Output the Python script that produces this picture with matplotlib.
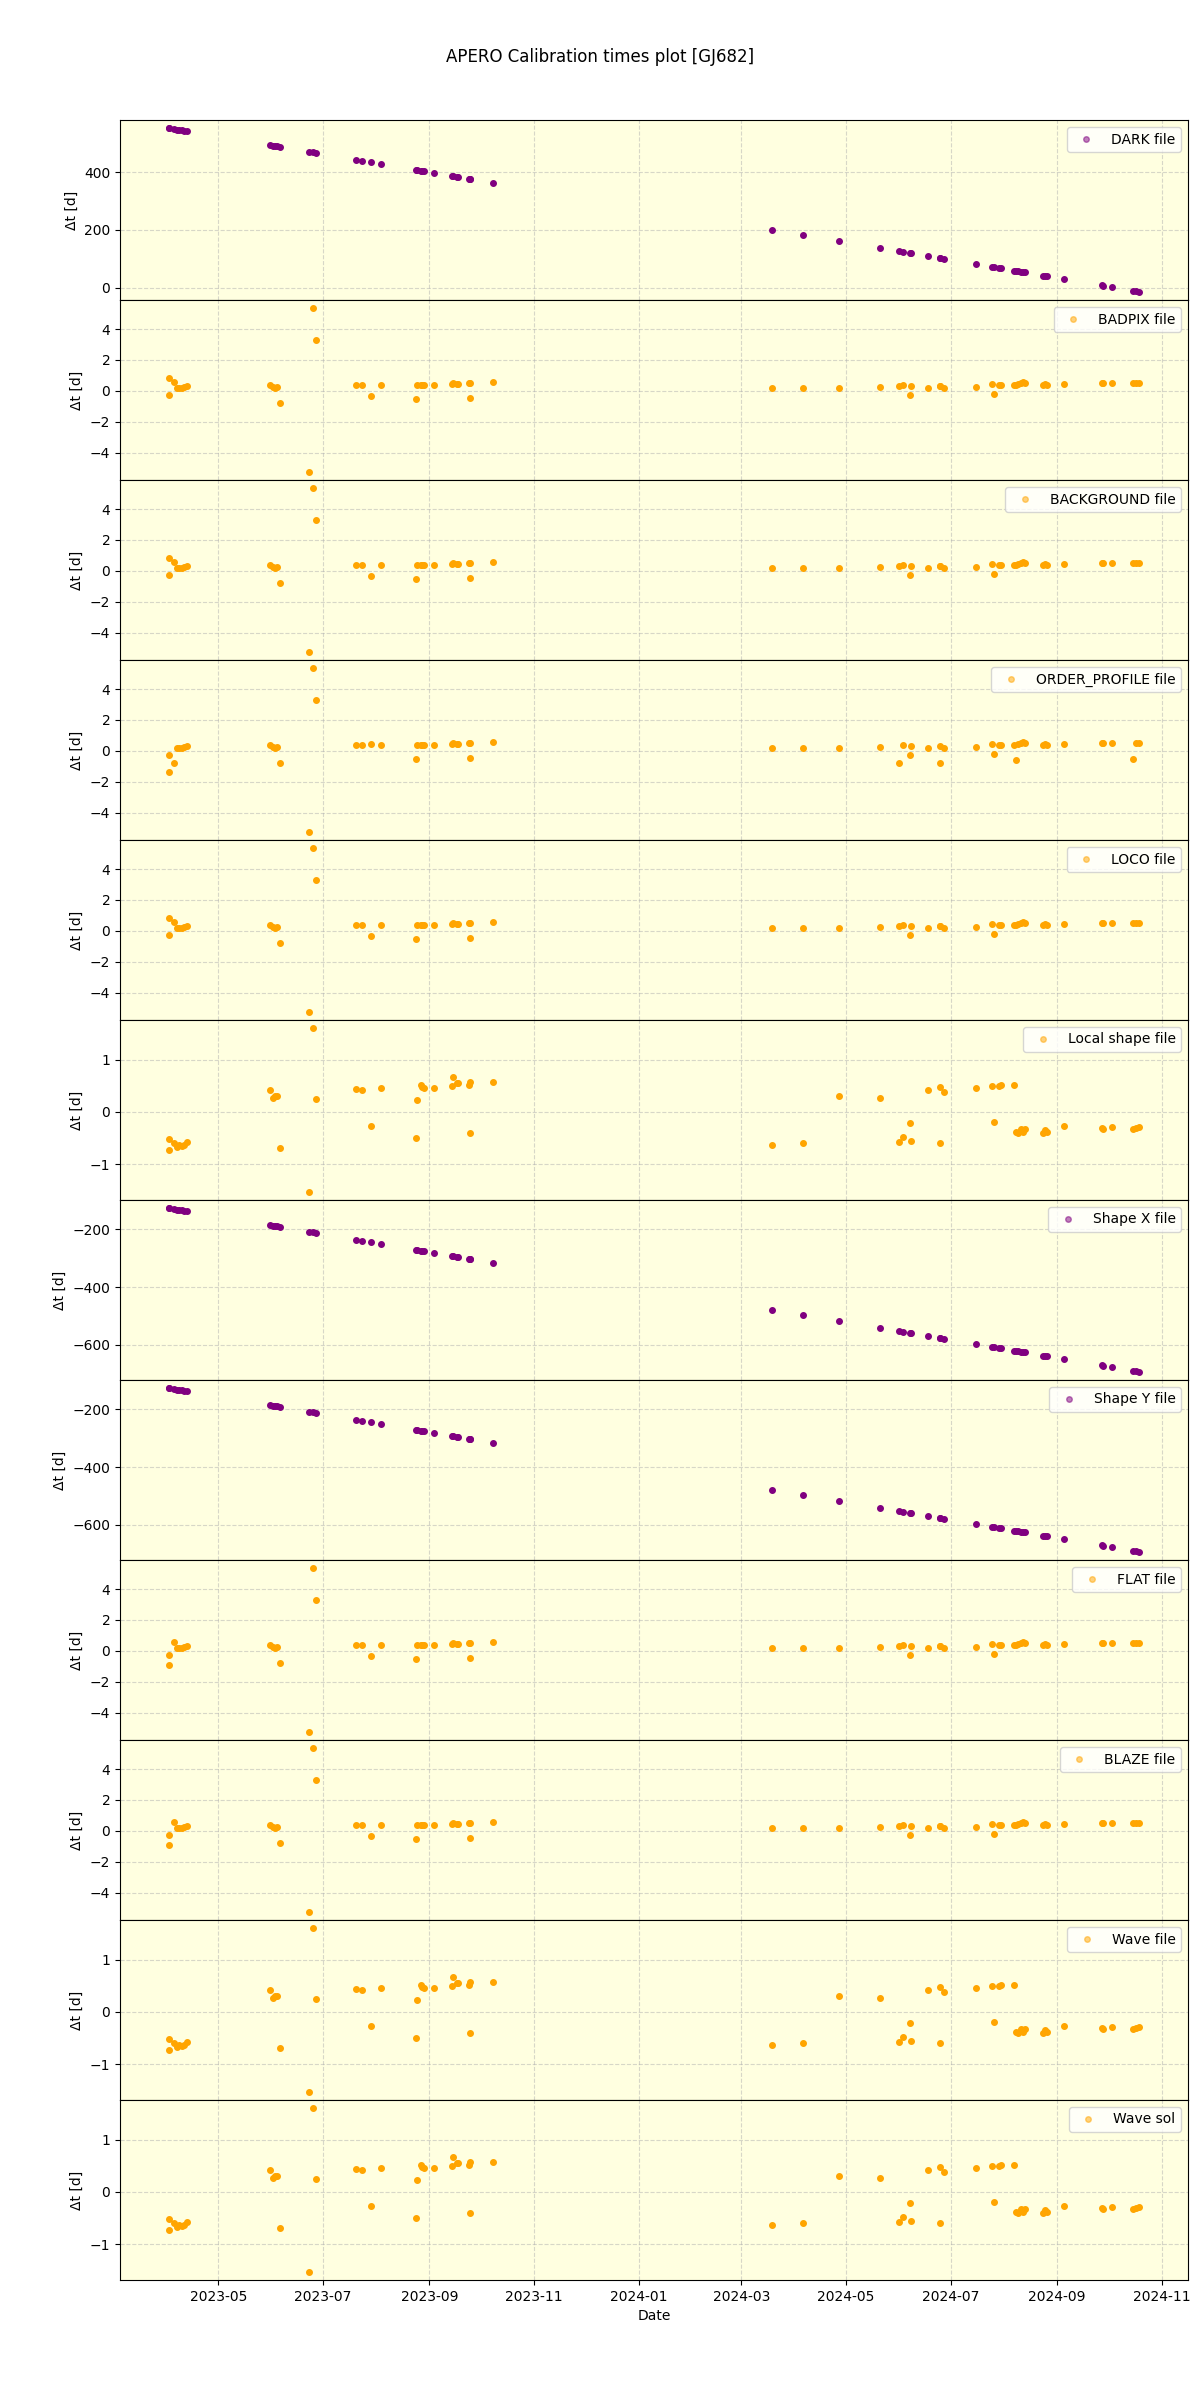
import numpy as np
import pandas as pd
import matplotlib
matplotlib.use('Agg')
import matplotlib.pyplot as plt

# observation dates (one entry per plotted point)
obs_dates = ['2023-04-02', '2023-04-02', '2023-04-05', '2023-04-07', '2023-04-08', '2023-04-10', '2023-04-11', '2023-04-13',
             '2023-05-31', '2023-06-02', '2023-06-03', '2023-06-04', '2023-06-06', '2023-06-23', '2023-06-25', '2023-06-27',
             '2023-07-20', '2023-07-24', '2023-07-29', '2023-08-04',
             '2023-08-24', '2023-08-25', '2023-08-27', '2023-08-28', '2023-08-29', '2023-09-04',
             '2023-09-14', '2023-09-15', '2023-09-17', '2023-09-18', '2023-09-24', '2023-09-25', '2023-09-25', '2023-10-08',
             '2024-03-19', '2024-04-06', '2024-04-27', '2024-05-21',
             '2024-06-01', '2024-06-03', '2024-06-07', '2024-06-08', '2024-06-18', '2024-06-25', '2024-06-25', '2024-06-27',
             '2024-07-16', '2024-07-25', '2024-07-26', '2024-07-29', '2024-07-30',
             '2024-08-07', '2024-08-08', '2024-08-09', '2024-08-11', '2024-08-12', '2024-08-13',
             '2024-08-24', '2024-08-25', '2024-08-26', '2024-09-05',
             '2024-09-27', '2024-09-28', '2024-10-03', '2024-10-15', '2024-10-17', '2024-10-19']

# delta t [days] for each calibration
dark_dt = [552, 552, 549, 547, 546, 544, 543, 541,
           493, 491, 490, 489, 487, 470, 468, 466,
           443, 439, 434, 428,
           408, 407, 405, 404, 403, 397,
           387, 386, 384, 383, 377, 376, 376, 363,
           200, 182, 161, 137,
           126, 124, 120, 119, 109, 102, 102, 100,
           81, 72, 71, 68, 67,
           59, 58, 57, 55, 54, 53,
           42, 41, 40, 30,
           8, 7, 2, -10, -12, -14]

badpix_dt = [0.8, -0.25, 0.55, 0.15, 0.2, 0.2, 0.25, 0.3,
             0.35, 0.25, 0.2, 0.25, -0.8, -5.25, 5.35, 3.3,
             0.4, 0.35, -0.35, 0.4,
             -0.55, 0.35, 0.4, 0.4, 0.4, 0.4,
             0.45, 0.5, 0.45, 0.45, 0.5, -0.5, 0.5, 0.55,
             0.15, 0.2, 0.2, 0.25,
             0.3, 0.35, -0.25, 0.3, 0.2, 0.3, 0.3, 0.2,
             0.25, 0.45, -0.2, 0.4, 0.4,
             0.4, 0.4, 0.45, 0.5, 0.55, 0.5,
             0.4, 0.45, 0.4, 0.45,
             0.5, 0.5, 0.5, 0.5, 0.5, 0.5]

background_dt = list(badpix_dt)
loco_dt = list(badpix_dt)

orderp_dt = [-1.4, -0.25, -0.78, 0.15, 0.2, 0.2, 0.25, 0.3,
             0.35, 0.25, 0.2, 0.25, -0.8, -5.25, 5.35, 3.3,
             0.4, 0.35, 0.45, 0.4,
             -0.55, 0.35, 0.4, 0.4, 0.4, 0.4,
             0.45, 0.5, 0.45, 0.45, 0.5, -0.5, 0.5, 0.55,
             0.15, 0.2, 0.2, 0.25,
             -0.78, 0.35, -0.25, 0.3, 0.2, 0.3, -0.78, 0.2,
             0.25, 0.45, -0.2, 0.4, 0.4,
             0.4, -0.58, 0.45, 0.5, 0.55, 0.5,
             0.4, 0.45, 0.4, 0.45,
             0.5, 0.5, 0.5, -0.52, 0.5, 0.5]

flat_dt = [-0.9] + badpix_dt[1:]
blaze_dt = list(flat_dt)

shape_local_dt = [-0.73, -0.52, -0.6, -0.67, -0.63, -0.65, -0.64, -0.58,
                  0.42, 0.27, 0.3, 0.31, -0.69, -1.53, 1.6, 0.24,
                  0.44, 0.42, -0.27, 0.46,
                  -0.5, 0.23, 0.52, 0.47, 0.46, 0.46,
                  0.5, 0.66, 0.55, 0.55, 0.52, -0.41, 0.58, 0.58,
                  -0.63, -0.59, 0.3, 0.26,
                  -0.58, -0.49, -0.21, -0.55, 0.42, 0.47, -0.6, 0.38,
                  0.46, 0.5, -0.2, 0.5, 0.52,
                  0.51, -0.38, -0.4, -0.33, -0.38, -0.32,
                  -0.4, -0.35, -0.39, -0.28,
                  -0.31, -0.32, -0.29, -0.32, -0.3, -0.29]
wave_dt = list(shape_local_dt)
wavesol_dt = list(shape_local_dt)

shapex_dt = [-127, -127, -130, -132, -133, -135, -136, -138,
             -186, -188, -189, -190, -192, -209, -211, -213,
             -236, -240, -245, -251,
             -271, -272, -274, -275, -276, -282,
             -292, -293, -295, -296, -302, -303, -303, -316,
             -479, -497, -518, -542,
             -553, -555, -559, -560, -570, -577, -577, -579,
             -598, -607, -608, -611, -612,
             -620, -621, -622, -624, -625, -626,
             -637, -638, -639, -649,
             -671, -672, -677, -689, -691, -693]
shapey_dt = list(shapex_dt)

labels = ['DARK file', 'BADPIX file', 'BACKGROUND file', 'ORDER_PROFILE file', 'LOCO file',
          'Local shape file', 'Shape X file', 'Shape Y file', 'FLAT file', 'BLAZE file',
          'Wave file', 'Wave sol']
values = [dark_dt, badpix_dt, background_dt, orderp_dt, loco_dt, shape_local_dt,
          shapex_dt, shapey_dt, flat_dt, blaze_dt, wave_dt, wavesol_dt]
colors = ['purple', 'orange', 'orange', 'orange', 'orange', 'orange',
          'purple', 'purple', 'orange', 'orange', 'orange', 'orange']

dates = pd.to_datetime(obs_dates)

fig, axes = plt.subplots(12, 1, figsize=(12, 24), sharex=True)
fig.subplots_adjust(left=0.1, right=0.99, top=0.95, bottom=0.05, hspace=0)

for ax, lab, dt, col in zip(axes, labels, values, colors):
    ax.plot(dates, dt, ls='None', marker='o', ms=4, color=col, label=lab)
    ax.set_facecolor('lightyellow')
    ax.grid(ls='--', alpha=0.5)
    ax.set_ylabel('Δt [d]')
    leg = ax.legend(loc='upper right')
    leg.legend_handles[0].set_alpha(0.5)

axes[-1].set_xlabel('Date')
fig.suptitle('APERO Calibration times plot [GJ682]')
plt.savefig('out.png')
